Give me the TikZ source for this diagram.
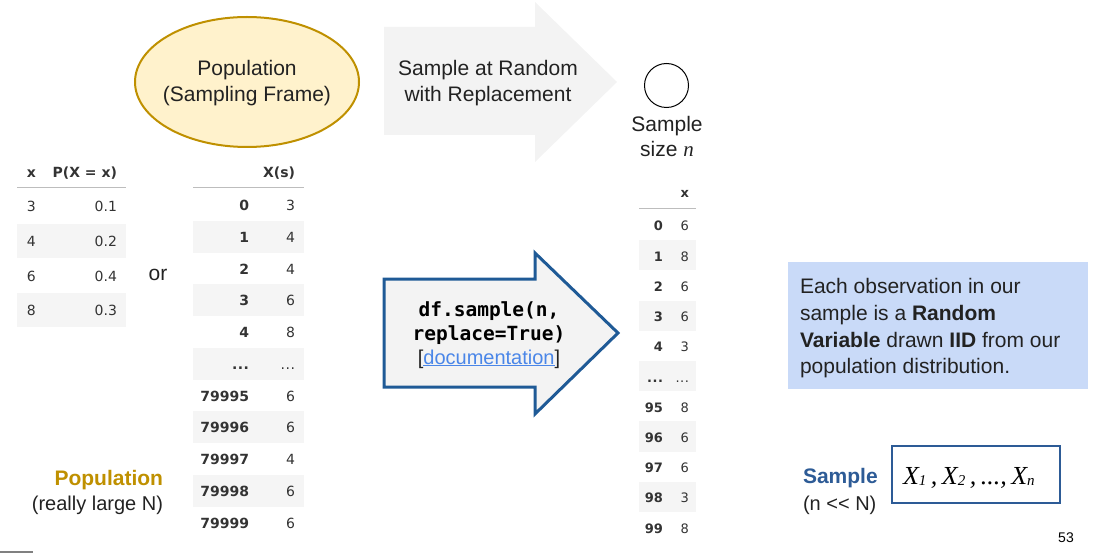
\documentclass[tikz,border=0pt]{standalone}
\usepackage{fontspec}
\setmainfont{Liberation Sans}
\newfontfamily\tabfont{DejaVu Sans}
\newfontfamily\codefont{DejaVu Sans Mono}
\newfontfamily\serifit{Liberation Serif}
\usetikzlibrary{shapes.geometric}
\definecolor{popfill}{HTML}{FFF2CC}
\definecolor{popgold}{HTML}{BF9000}
\definecolor{arrowgray}{HTML}{F3F3F3}
\definecolor{arrowblue}{HTML}{1F5A96}
\definecolor{boxblue}{HTML}{C9DAF8}
\definecolor{sampleblue}{HTML}{2D5B96}
\definecolor{linkblue}{HTML}{4A86E8}
\definecolor{darktext}{HTML}{222222}
\definecolor{tabtext}{HTML}{333333}
\definecolor{bandgray}{HTML}{F5F5F5}
\definecolor{rulegray}{HTML}{BDBDBD}
\def\mydots{.\kern0.5pt.\kern0.5pt.}
\newcommand{\xsub}[1]{\raisebox{-1pt}{\fontsize{15}{15}\selectfont #1}}
\newcommand{\xgap}{\hspace{4.5pt}}
\begin{document}
\begin{tikzpicture}[x=1pt,y=-1pt,
  every node/.style={inner sep=0pt,outer sep=0pt},
  bodytext/.style={font=\fontsize{21}{26}\selectfont,text=darktext,anchor=base},
  tabhead/.style={font=\tabfont\bfseries\fontsize{14}{14}\selectfont,text=tabtext,anchor=base east},
  tabidx/.style={font=\tabfont\bfseries\fontsize{14}{14}\selectfont,text=tabtext,anchor=base east},
  tabval/.style={font=\tabfont\fontsize{14}{14}\selectfont,text=tabtext,anchor=base east},
  smhead/.style={font=\tabfont\bfseries\fontsize{13}{13}\selectfont,text=tabtext,anchor=base east},
  smidx/.style={font=\tabfont\bfseries\fontsize{13}{13}\selectfont,text=tabtext,anchor=base east},
  smval/.style={font=\tabfont\fontsize{13}{13}\selectfont,text=tabtext,anchor=base east},
  band/.style={fill=bandgray},
  headrule/.style={draw=rulegray,line width=1pt},
  codetext/.style={font=\codefont\bfseries\fontsize{19.5}{22}\selectfont,text=black,anchor=base},
  boxline/.style={font=\fontsize{21}{26}\selectfont,text=darktext,anchor=base west}
]
\useasboundingbox (0,0) rectangle (1099,553);

% Population ellipse
\node[ellipse,draw=popgold,line width=2pt,fill=popfill,minimum width=224pt,minimum height=130pt] (pop) at (247,82) {};
\node[bodytext] (popl1) at (247,76) {Population};
\node[bodytext] (popl2) at (247,102) {(Sampling Frame)};

% top gray arrow
\fill[arrowgray] (384,27) -- (535,27) -- (535,2) -- (617,82) -- (535,162) -- (535,135) -- (384,135) -- cycle;
\node[bodytext] (sar1) at (488,76) {Sample at Random};
\node[bodytext] (sar2) at (488,102) {with Replacement};

% sample circle
\node[circle,draw=black,line width=1pt,minimum size=44pt] (circ) at (666.5,85.5) {};
\node[bodytext] (ss1) at (667,132) {Sample};
\node[bodytext] (ss2) at (667,157) {size {\serifit\itshape n}};

% Table 1
\fill[band] (17,224) rectangle (126,258);
\fill[band] (17,293) rectangle (126,327);
\draw[headrule] (17,188) -- (126,188);
\node[tabhead,anchor=base west] (t1hx) at (27,178) {x};
\node[tabhead] (t1hp) at (117,178) {P(X = x)};
\foreach \x/\p [count=\k from 0] in {3/0.1,4/0.2,6/0.4,8/0.3} {
  \node[tabval,anchor=base west] (t1x\k) at (27,{212+34.5*\k}) {\x};
  \node[tabval] (t1p\k) at (117,{212+34.5*\k}) {\p};
}
\node[bodytext,anchor=base] (or) at (158,280) {or};

% Table 2
\foreach \k in {1,3,5,7,9} {
  \fill[band] (193,{189+31.75*\k}) rectangle (304,{189+31.75*(\k+1)});
}
\draw[headrule] (193,188) -- (304,188);
\node[tabhead] (t2h) at (295,178) {X(s)};
\foreach \i/\v [count=\k from 0] in {0/3,1/4,2/4,3/6,4/8,\mydots/\mydots,79995/6,79996/6,79997/4,79998/6,79999/6} {
  \node[tabidx] (t2i\k) at (249,{210.5+31.75*\k}) {\i};
  \node[tabval] (t2v\k) at (295,{210.5+31.75*\k}) {\v};
}

% Table 3
\foreach \k in {1,3,5,7,9} {
  \fill[band] (639,{210+30.2*\k}) rectangle (696,{210+30.2*(\k+1)});
}
\draw[headrule] (639,209) -- (696,209);
\node[smhead] (t3h) at (689,198) {x};
\foreach \i/\v [count=\k from 0] in {0/6,1/8,2/6,3/6,4/3,\mydots/\mydots,95/8,96/6,97/6,98/3,99/8} {
  \node[smidx] (t3i\k) at (663,{231+30.2*\k}) {\i};
  \node[smval] (t3v\k) at (689,{231+30.2*\k}) {\v};
}

% blue arrow
\draw[arrowblue,line width=3pt,line join=miter,fill=arrowgray] (384,279) -- (535,279) -- (535,253) -- (618,333) -- (535,414) -- (535,387) -- (384,387) -- cycle;
\node[codetext] (code1) at (489,316) {df.sample(n,};
\node[codetext] (code2) at (489,340) {replace=True)};
\node[bodytext,font=\fontsize{20}{24}\selectfont] (doc) at (489,364) {[\textcolor{linkblue}{\underline{documentation}}]};

% info box
\fill[boxblue] (788,262) rectangle (1088,389);
\node[boxline] (b1) at (800,293) {Each observation in our};
\node[boxline] (b2) at (800,320) {sample is a \textbf{Random}};
\node[boxline] (b3) at (800,347) {\textbf{Variable} drawn \textbf{IID} from our};
\node[boxline] (b4) at (800,373) {population distribution.};

% Population label
\node[bodytext,anchor=base east,font=\bfseries\fontsize{21}{26}\selectfont,text=popgold] (popb) at (163,485) {Population};
\node[bodytext,anchor=base east,font=\fontsize{20}{26}\selectfont] (popn) at (163,510) {(really large N)};

% Sample label
\node[bodytext,anchor=base west,font=\bfseries\fontsize{21}{26}\selectfont,text=sampleblue] (sampb) at (803,483) {Sample};
\node[bodytext,anchor=base west,font=\fontsize{20}{26}\selectfont] (sampn) at (803,510) {(n {<}{<} N)};

% X box
\draw[draw=sampleblue,line width=2pt] (892,446) rectangle (1060,503);
\node[anchor=base west,font=\serifit\itshape\fontsize{26}{30}\selectfont,text=black] (xs) at (903,484)
  {X\xsub{1}\xgap,\xgap X\xsub{2}\xgap,\xgap...,\xgap X\xsub{n}};

% page number
\node[anchor=base,font=\fontsize{14}{14}\selectfont,text=black] (pg) at (1066,542) {53};

% bottom-left rule fragment
\draw[gray,line width=1.5pt] (0,552) -- (33,552);
\end{tikzpicture}
\end{document}
